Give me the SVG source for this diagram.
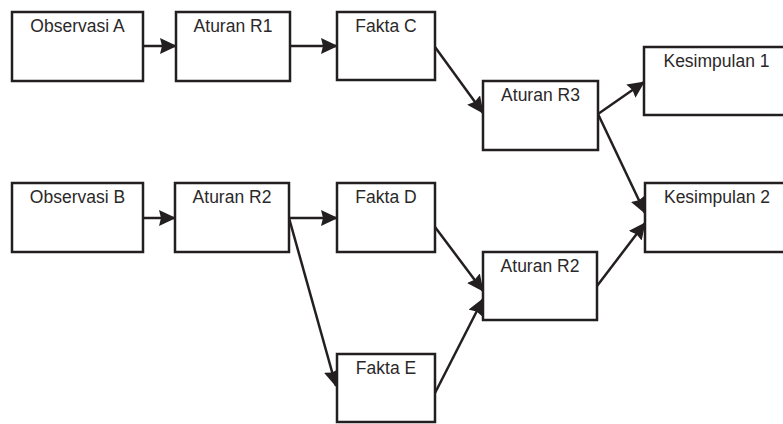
<svg xmlns="http://www.w3.org/2000/svg" width="783" height="424" viewBox="0 0 783 424">
  <style>
    .box { fill: #ffffff; stroke: #231f20; stroke-width: 2.5; }
    .label { font-family: "Liberation Sans", Arial, sans-serif; font-size: 17.5px; fill: #2b2829; text-anchor: middle; }
    .edge { stroke: #231f20; stroke-width: 2.5; fill: none; marker-end: url(#arrow); }
  </style>
  <defs>
    <marker id="arrow" markerUnits="userSpaceOnUse" markerWidth="17" markerHeight="16" refX="16" refY="8" orient="auto">
      <path d="M0,0 L17,8 L0,16 L2,8 Z" fill="#231f20"/>
    </marker>
  </defs>
  <rect width="783" height="424" fill="#ffffff"/>

  <g id="connectors">
    <line class="edge" x1="143" y1="46" x2="176" y2="46"/>
    <line class="edge" x1="290" y1="46" x2="337" y2="46"/>
    <line class="edge" x1="435" y1="47" x2="483" y2="113"/>
    <line class="edge" x1="598" y1="114" x2="644" y2="82"/>
    <line class="edge" x1="598" y1="114" x2="645" y2="213"/>
    <line class="edge" x1="143" y1="218" x2="175" y2="218"/>
    <line class="edge" x1="289" y1="218" x2="337" y2="218"/>
    <line class="edge" x1="289" y1="218" x2="336" y2="386"/>
    <line class="edge" x1="435" y1="227" x2="483" y2="291"/>
    <line class="edge" x1="435" y1="393" x2="483" y2="299"/>
    <line class="edge" x1="597" y1="286" x2="645" y2="223"/>
  </g>

  <g id="obs-a">
    <rect class="box" x="12" y="12" width="131" height="69"/>
    <text class="label" x="77.5" y="32">Observasi A</text>
  </g>
  <g id="aturan-r1">
    <rect class="box" x="176" y="12" width="114" height="69"/>
    <text class="label" x="233" y="32">Aturan R1</text>
  </g>
  <g id="fakta-c">
    <rect class="box" x="337" y="12" width="98" height="68"/>
    <text class="label" x="386" y="32">Fakta C</text>
  </g>
  <g id="aturan-r3">
    <rect class="box" x="483" y="81" width="115" height="69"/>
    <text class="label" x="540.5" y="101">Aturan R3</text>
  </g>
  <g id="kesimpulan-1">
    <rect class="box" x="644" y="47" width="145" height="68"/>
    <text class="label" x="716.5" y="67">Kesimpulan 1</text>
  </g>
  <g id="obs-b">
    <rect class="box" x="12" y="183" width="131" height="69"/>
    <text class="label" x="77.5" y="203">Observasi B</text>
  </g>
  <g id="aturan-r2-a">
    <rect class="box" x="175" y="183" width="114" height="69"/>
    <text class="label" x="232" y="203">Aturan R2</text>
  </g>
  <g id="fakta-d">
    <rect class="box" x="337" y="183" width="98" height="69"/>
    <text class="label" x="386" y="203">Fakta D</text>
  </g>
  <g id="aturan-r2-b">
    <rect class="box" x="483" y="252" width="114" height="68"/>
    <text class="label" x="540" y="272">Aturan R2</text>
  </g>
  <g id="fakta-e">
    <rect class="box" x="337" y="354" width="98" height="68"/>
    <text class="label" x="386" y="374">Fakta E</text>
  </g>
  <g id="kesimpulan-2">
    <rect class="box" x="645" y="183" width="145" height="69"/>
    <text class="label" x="717" y="203">Kesimpulan 2</text>
  </g>
</svg>
